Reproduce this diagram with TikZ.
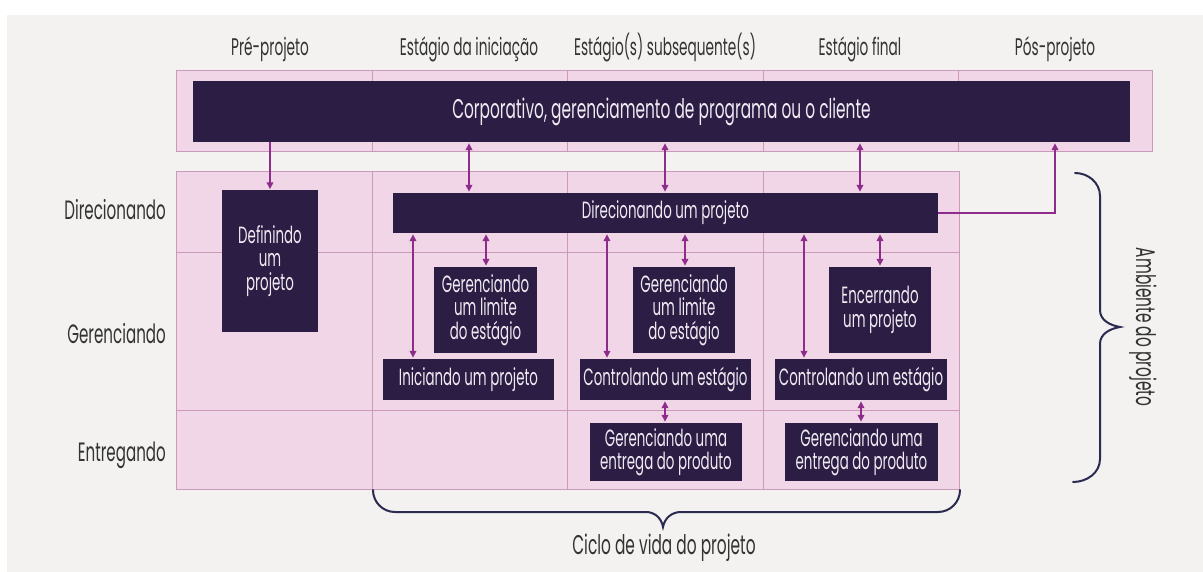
\documentclass[tikz,border=0pt]{standalone}
\usepackage{fontspec}
\setmainfont[FakeStretch=0.57]{Poppins}
\usetikzlibrary{arrows.meta}
\definecolor{bgc}{HTML}{F3F2F0}
\definecolor{pinkc}{HTML}{F1D6E7}
\definecolor{gridc}{HTML}{C99AB9}
\definecolor{darkc}{HTML}{2C1D45}
\definecolor{arrc}{HTML}{8E2C8C}
\definecolor{bracec}{HTML}{2B2A50}
\definecolor{txtc}{HTML}{333333}
\definecolor{boxtxt}{HTML}{F0EAF2}
\tikzset{
  darkbox/.style={fill=darkc, draw=none, inner sep=0pt, text=boxtxt, align=center,
    font=\fontsize{23.5}{23.5}\selectfont},
  hdr/.style={text=txtc, font=\fontsize{24}{24}\selectfont, inner sep=0pt, anchor=base},
  rowlbl/.style={text=txtc, font=\fontsize{26.5}{26}\selectfont, inner sep=0pt, anchor=base east},
  arr/.style={draw=arrc, line width=1.8pt, -{Triangle[length=7pt,width=6.5pt]}, shorten >=1pt},
  dbl/.style={draw=arrc, line width=1.8pt, {Triangle[length=7pt,width=6.5pt]}-{Triangle[length=7pt,width=6.5pt]}, shorten >=1pt, shorten <=1pt},
  gridline/.style={draw=gridc, line width=1pt},
  bracel/.style={draw=bracec, line width=2pt, line cap=round},
  lbl/.style={text=txtc, font=\fontsize{27}{27}\selectfont, inner sep=0pt}
}
\begin{document}
\begin{tikzpicture}[x=1pt,y=-1pt]
\useasboundingbox (0,0) rectangle (1203,572);
\fill[white] (0,0) rectangle (1203,572);
\fill[bgc] (7,15) rectangle (1203,572);
% pink regions
\fill[pinkc] (176,71) rectangle (1152,152);
\fill[pinkc] (176,172) rectangle (959,489);
\draw[gridline] (176,71) rectangle (1152,152);
\draw[gridline] (176,172) rectangle (959,489);
\foreach \x in {372,567,763,958} \draw[gridline] (\x,71) -- (\x,152);
\foreach \x in {372,567,763} \draw[gridline] (\x,172) -- (\x,489);
\draw[gridline] (176,253) -- (959,253);
\draw[gridline] (176,410) -- (959,410);
% headers
\node[hdr] (h1) at (270,56) {Pré-projeto};
\node[hdr] (h2) at (469,56) {Estágio da iniciação};
\node[hdr] (h3) at (665,56) {Estágio(s) subsequente(s)};
\node[hdr] (h4) at (860,56) {Estágio final};
\node[hdr] (h5) at (1055,56) {Pós-projeto};
% row labels
\node[rowlbl] (r1) at (166,220) {Direcionando};
\node[rowlbl] (r2) at (166,343) {Gerenciando};
\node[rowlbl] (r3) at (166,461) {Entregando};
% boxes
\node[darkbox, minimum width=937pt, minimum height=61pt, font=\fontsize{27}{27}\selectfont] (corp) at (661.5,111.5) {Corporativo, gerenciamento de programa ou o cliente};
\node[darkbox, minimum width=96pt, minimum height=141pt] (defin) at (270,261) {Definindo\\um\\projeto};
\node[darkbox, minimum width=545pt, minimum height=40pt] (direc) at (665.5,213) {Direcionando um projeto};
\node[darkbox, minimum width=103pt, minimum height=86pt] (lim1) at (485.5,310) {Gerenciando\\um limite\\do estágio};
\node[darkbox, minimum width=102pt, minimum height=86pt] (lim2) at (684,310) {Gerenciando\\um limite\\do estágio};
\node[darkbox, minimum width=102pt, minimum height=86pt] (encer) at (880,310) {Encerrando\\um projeto};
\node[darkbox, minimum width=171pt, minimum height=41pt] (inic) at (468.5,379.5) {Iniciando um projeto};
\node[darkbox, minimum width=171pt, minimum height=41pt] (ctrl1) at (665.5,379.5) {Controlando um estágio};
\node[darkbox, minimum width=172pt, minimum height=41pt] (ctrl2) at (861,379.5) {Controlando um estágio};
\node[darkbox, minimum width=152pt, minimum height=58pt] (entr1) at (666,452) {Gerenciando uma\\entrega do produto};
\node[darkbox, minimum width=153pt, minimum height=58pt] (entr2) at (861.5,452) {Gerenciando uma\\entrega do produto};
% arrow columns
\coordinate (c1) at (270,0);
\coordinate (c2) at (469,0);
\coordinate (c3) at (665,0);
\coordinate (c4) at (860,0);
\coordinate (c5) at (1055,0);
\coordinate (l1) at (413,0);
\coordinate (l2) at (607,0);
\coordinate (l3) at (804,0);
\coordinate (s1) at (486,0);
\coordinate (s2) at (685,0);
\coordinate (s3) at (880,0);
\coordinate (d1) at (665,0);
\coordinate (d2) at (861,0);
% arrows
\draw[arr] (corp.south -| c1) -- (defin.north -| c1);
\draw[dbl] (corp.south -| c2) -- (direc.north -| c2);
\draw[dbl] (corp.south -| c3) -- (direc.north -| c3);
\draw[dbl] (corp.south -| c4) -- (direc.north -| c4);
\draw[arr] (direc.east) -- (direc.east -| c5) -- (corp.south -| c5);
\draw[dbl] (direc.south -| l1) -- (inic.north -| l1);
\draw[dbl] (direc.south -| l2) -- (ctrl1.north -| l2);
\draw[dbl] (direc.south -| l3) -- (ctrl2.north -| l3);
\draw[dbl] (direc.south -| s1) -- (lim1.north -| s1);
\draw[dbl] (direc.south -| s2) -- (lim2.north -| s2);
\draw[dbl] (direc.south -| s3) -- (encer.north -| s3);
\draw[dbl] (ctrl1.south -| d1) -- (entr1.north -| d1);
\draw[dbl] (ctrl2.south -| d2) -- (entr2.north -| d2);
% braces
\draw[bracel] (1075,173) to[out=0,in=90] (1100,196) -- (1100,310) to[out=-90,in=170] (1120,327) to[out=190,in=90] (1100,344) -- (1100,459) to[out=-90,in=0] (1073,482);
\draw[bracel] (373,490) to[out=-90,in=180] (395,512) -- (646,512) to[out=0,in=100] (663,527) to[out=80,in=180] (681,512) -- (938,512) to[out=0,in=-90] (960,490);
\node[lbl] (ciclo) at (664,548) {Ciclo de vida do projeto};
\node[lbl, rotate=-90] (amb) at (1143,327) {Ambiente do projeto};
\end{tikzpicture}
\end{document}
